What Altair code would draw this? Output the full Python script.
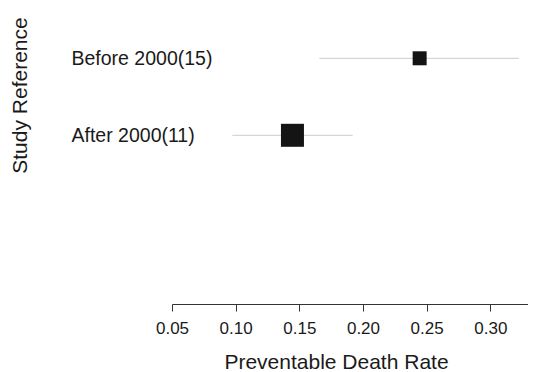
import altair as alt
import pandas as pd

labels = ["Before 2000(15)", "After 2000(11)"]
est = [0.2445, 0.1446]
lower = [0.1657, 0.0974]
upper = [0.3225, 0.1919]
weight = [27, 73]
x_ticks = [0.05, 0.10, 0.15, 0.20, 0.25, 0.30]

df = pd.DataFrame({"study": labels, "est": est, "lower": lower,
                   "upper": upper, "weight": weight})

FONT = "Liberation Sans"

yscale = alt.Scale(type="point", domain=labels, padding=0, range=[50.3, 127.3])
yenc = alt.Y("study:N", sort=labels, scale=yscale,
             axis=alt.Axis(title="Study Reference", domain=False, ticks=False, tickSize=0,
                           labelAlign="left", labelPadding=101, labelFontSize=19.5,
                           labelFont=FONT, labelColor="#1a1a1a", labelBaseline="middle",
                           titleFont=FONT, titleFontSize=21, titleFontWeight="normal",
                           titleColor="#1a1a1a", titleAngle=270, titleX=-146, titleY=87,
                           titleAlign="center", titleBaseline="alphabetic", grid=False))

xscale = alt.Scale(domain=[0.05, 0.3296], nice=False, zero=False)
xaxis = alt.Axis(title="Preventable Death Rate", values=x_ticks, format=".2f",
                 grid=False, domainColor="#333333", tickColor="#333333", tickSize=7,
                 labelFont=FONT, labelFontSize=17, labelColor="#1a1a1a", labelPadding=9,
                 labelFlush=False, labelOverlap=False,
                 titleFont=FONT, titleFontSize=21, titleFontWeight="normal",
                 titleColor="#1a1a1a", titleX=164, titleY=64, titleAlign="center",
                 titleBaseline="alphabetic")

rules = alt.Chart(df).mark_rule(color="#cccccc", strokeWidth=1).encode(
    x=alt.X("lower:Q", scale=xscale, axis=xaxis),
    x2="upper:Q",
    y=yenc,
)

points = alt.Chart(df).mark_point(shape="square", filled=True, color="#141414",
                                  opacity=1, strokeWidth=0).encode(
    x=alt.X("est:Q", scale=xscale),
    y=alt.Y("study:N", sort=labels, scale=yscale),
    size=alt.Size("weight:Q", scale=alt.Scale(domain=[0, 100], range=[0, 725], zero=True),
                  legend=None),
)

chart = alt.layer(rules, points).properties(
    width=356, height=296,
    autosize=alt.AutoSizeParams(type="none"),
    padding={"left": 164, "top": 0, "right": 0, "bottom": 72},
).configure_view(stroke=None)

chart.save("out.html", embed_options={"renderer": "svg", "actions": False})
